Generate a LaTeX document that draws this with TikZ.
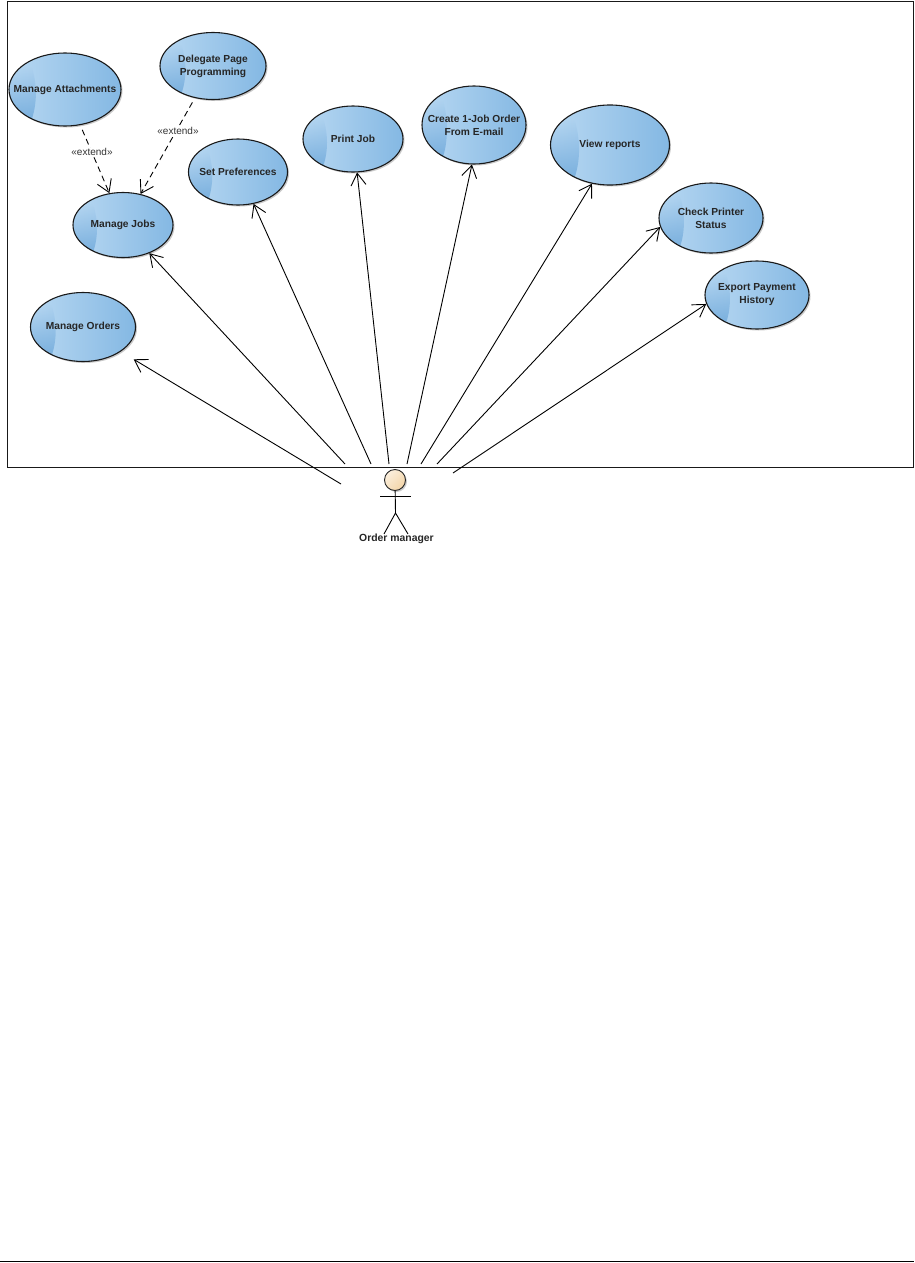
\documentclass[tikz,border=0pt]{standalone}
\usepackage{fontspec}
\setmainfont{Liberation Sans}
\usetikzlibrary{shapes.geometric,arrows.meta,shadows,fadings}
\definecolor{ucL}{HTML}{B8D8F2}
\definecolor{ucR}{HTML}{84B8E3}
\definecolor{ucD}{HTML}{74ACDC}
\definecolor{skinA}{HTML}{F3D5A8}
\definecolor{skinB}{HTML}{FBEFDD}
\tikzset{
  usecase/.style 2 args={ellipse,draw=black!90,line width=1.1pt,inner sep=-14pt,align=center,
    font=\bfseries\fontsize{10.2}{13}\selectfont,text=black!85,
    minimum width=#1,minimum height=#2,
    left color=ucL,middle color=ucL,right color=ucR,
    drop shadow={shadow xshift=1.5pt,shadow yshift=-1.5pt,fill=black!35,opacity=.6},
    path picture={
      \coordinate (ppc) at (path picture bounding box.center);
      \fill[ucD,path fading=north]
        ([xshift=-.5*#1,yshift=.32*#2]ppc) -- ([xshift=-.30*#1,yshift=.32*#2]ppc)
        .. controls ([xshift=-.25*#1,yshift=.1*#2]ppc) and ([xshift=-.24*#1,yshift=-.2*#2]ppc)
        .. ([xshift=-.31*#1,yshift=-.46*#2]ppc)
        -- ([xshift=-.5*#1,yshift=-.5*#2]ppc) -- cycle;
    }},
  assoc/.style={line width=.9pt,-{Straight Barb[length=12pt,width=15pt,line width=.9pt]}},
  ext/.style={line width=.9pt,dash pattern=on 6pt off 4pt,shorten <=5pt,-{Straight Barb[length=12pt,width=15pt,line width=.9pt]}},
  extlabel/.style={font=\fontsize{10}{12}\selectfont,text=black!80,inner sep=0pt,fill=white,inner xsep=0pt},
  limb/.style={line width=.9pt}
}
\begin{document}
\begin{tikzpicture}[x=1pt,y=-1pt]
\useasboundingbox (0,0) rectangle (914,1263);
\fill[white] (0,0) rectangle (914,1263);
\node[draw=black!90,line width=1pt,minimum width=906pt,minimum height=466pt,inner sep=0pt,anchor=north west] (frame) at (7,1) {};
\draw[line width=1pt] (0,1261.5) coordinate (fl) -- (914,1261.5) coordinate (fr);

\node[usecase={112pt}{73pt}] (att) at (65,89.5) {Manage Attachments};
\node[usecase={106pt}{67pt}] (del) at (213,66) {Delegate Page\\Programming};
\node[usecase={99pt}{66pt}] (set) at (238,172) {Set Preferences};
\node[usecase={100pt}{65pt}] (job) at (123,225) {Manage Jobs};
\node[usecase={105pt}{69pt}] (ord) at (83,327) {Manage Orders};
\node[usecase={100pt}{66pt}] (prt) at (353,139) {Print Job};
\node[usecase={104pt}{78pt}] (cre) at (474,125) {Create 1-Job Order\\From E-mail};
\node[usecase={119pt}{80pt}] (vie) at (610,145) {View reports};
\node[usecase={104pt}{70pt}] (chk) at (711,218) {Check Printer\\Status};
\node[usecase={104pt}{68pt}] (exp) at (757,295) {Export Payment\\History};

\draw[ext] (att) -- (job);
\draw[ext] (del) -- (job);
\node[extlabel] (l1) at (92,152) {«extend»};
\node[extlabel] (l2) at (178,131) {«extend»};

\coordinate (a1) at (341,484);
\coordinate (a2) at (345,464);
\coordinate (a3) at (371,464);
\coordinate (a4) at (389,464);
\coordinate (a5) at (407,464);
\coordinate (a6) at (421,464);
\coordinate (a7) at (437,464);
\coordinate (a8) at (453,473);
\draw[assoc,shorten >=15pt] (a1) -- (ord.327);
\draw[assoc] (a2) -- (job.313);
\draw[assoc] (a3) -- (set.296);
\draw[assoc] (a4) -- (prt.277);
\draw[assoc] (a5) -- (cre.267);
\draw[assoc] (a6) -- (vie.245);
\draw[assoc] (a7) -- (chk.190);
\draw[assoc] (a8) -- (exp.190);

% actor
\fill[black!20] (396.5,481.5) circle (10.5pt);
\node[circle,draw=black!85,line width=.9pt,minimum size=21pt,inner sep=0pt,left color=skinA,right color=skinB,shading angle=225] (head) at (395,480) {};
\coordinate (hip) at (395.5,513);
\coordinate (armL) at (380,496);
\coordinate (armR) at (411,496);
\coordinate (legL) at (384,534);
\coordinate (legR) at (408,534);
\draw[limb] (head) -- (hip);
\draw[limb] (armL) -- (armR);
\draw[limb] (legL) -- (hip) -- (legR);
\node[font=\bfseries\fontsize{10.4}{12}\selectfont,text=black!85,inner sep=0pt] (actor) at (396.5,539) {Order manager};
\end{tikzpicture}
\end{document}
